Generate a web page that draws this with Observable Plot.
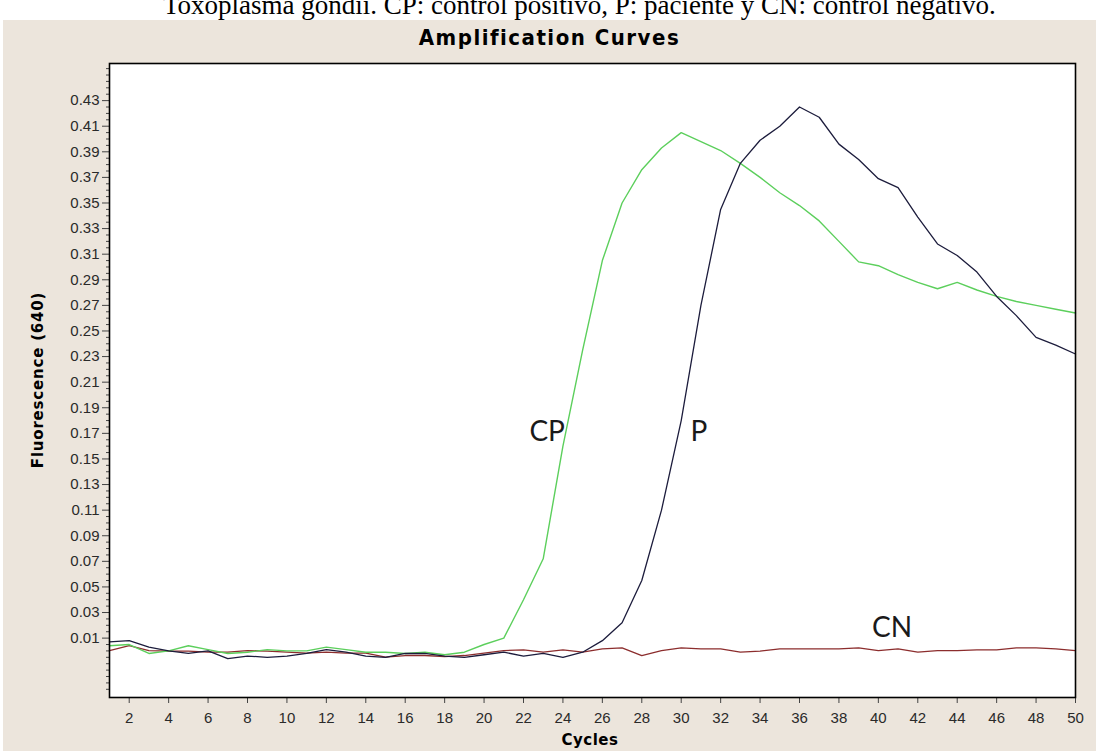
<!DOCTYPE html>
<html>
<head>
<meta charset="utf-8">
<script src="https://cdn.jsdelivr.net/npm/d3@7"></script>
<script src="https://cdn.jsdelivr.net/npm/@observablehq/plot@0.6"></script>
<style>
html, body { margin: 0; padding: 0; background: #ffffff; }
#page { position: relative; width: 1096px; height: 751px; overflow: hidden; background: #ffffff; }
#caption { position: absolute; left: 0; top: 0; width: 1096px; height: 20px; overflow: hidden; }
#caption span { position: absolute; left: 163px; top: -8px; font: 27px/27px "Liberation Serif", "DejaVu Serif", serif; white-space: nowrap; color: #000; }
#panel { position: absolute; left: 3px; top: 20px; width: 1093px; height: 731px; background: #ece5dc; }
#title { position: absolute; left: 0; top: 6px; width: 1093px; text-align: center; font: bold 22px/24px "DejaVu Sans Condensed", "DejaVu Sans", sans-serif; letter-spacing: 1.5px; color: #000; }
#chart { position: absolute; left: 0; top: 40px; }
#ylab { position: absolute; left: 35px; top: 360px; transform: translate(-50%, -50%) rotate(-90deg); white-space: nowrap; font: bold 15px/16px "DejaVu Sans", sans-serif; letter-spacing: 0.8px; color: #000; }
#xlab { position: absolute; left: 587px; top: 720px; transform: translate(-50%, -50%); white-space: nowrap; font: bold 15px/16px "DejaVu Sans", sans-serif; letter-spacing: 0.5px; color: #000; }
</style>
</head>
<body>
<div id="page">
  <div id="caption"><span>Toxoplasma gondii. CP: control positivo, P: paciente y CN: control negativo.</span></div>
  <div id="panel">
    <div id="title">Amplification Curves</div>
    <div id="chart"></div>
    <div id="ylab">Fluorescence (640)</div>
    <div id="xlab">Cycles</div>
  </div>
</div>
<script>
// ---- Data ----
const cycles = [1,2,3,4,5,6,7,8,9,10,11,12,13,14,15,16,17,18,19,20,21,22,23,24,25,26,27,28,29,30,31,32,33,34,35,36,37,38,39,40,41,42,43,44,45,46,47,48,49,50];

const cpValues = [0.004,0.005,-0.002,0.000,0.004,0.001,-0.002,-0.001,0.001,0.000,
                  0.000,0.003,0.001,-0.001,-0.001,-0.002,-0.001,-0.003,-0.001,0.005,
                  0.010,0.040,0.072,0.160,0.235,0.305,0.350,0.376,0.393,0.405,
                  0.398,0.391,0.381,0.370,0.358,0.348,0.336,0.320,0.304,0.301,
                  0.294,0.288,0.283,0.288,0.282,0.277,0.273,0.270,0.267,0.264];

const pValues  = [0.007,0.008,0.003,0.000,-0.002,0.000,-0.006,-0.004,-0.005,-0.004,
                  -0.002,0.001,-0.001,-0.004,-0.005,-0.002,-0.002,-0.004,-0.005,-0.003,
                  -0.001,-0.004,-0.002,-0.005,-0.001,0.008,0.022,0.055,0.110,0.180,
                  0.270,0.345,0.381,0.399,0.410,0.425,0.417,0.396,0.384,0.369,
                  0.362,0.339,0.318,0.309,0.296,0.277,0.262,0.245,0.239,0.232];

const cnValues = [0.0003,0.0042,0.0003,-0.0002,-0.0002,-0.0010,-0.0010,0.0003,-0.0002,-0.0010,
                  -0.0018,-0.0010,-0.0018,-0.0018,-0.0049,-0.0036,-0.0036,-0.0044,-0.0036,-0.0018,
                  0.0003,0.0008,-0.0010,0.0008,-0.0010,0.0016,0.0024,-0.0036,0.0003,0.0024,
                  0.0016,0.0016,-0.0010,-0.0002,0.0016,0.0016,0.0016,0.0016,0.0024,0.0003,
                  0.0016,-0.0010,0.0003,0.0003,0.0008,0.0008,0.0024,0.0024,0.0016,0.0003];

const seriesNames = ["CP", "P", "CN"];
const labelCycles = [23.2, 30.9, 40.7];
const labelValues = [0.171, 0.171, 0.0175];

const xTickValues = [2,4,6,8,10,12,14,16,18,20,22,24,26,28,30,32,34,36,38,40,42,44,46,48,50];
const yTickValues = [0.01,0.03,0.05,0.07,0.09,0.11,0.13,0.15,0.17,0.19,0.21,0.23,0.25,0.27,0.29,0.31,0.33,0.35,0.37,0.39,0.41,0.43];

// ---- Build tables ----
const toRows = (vals, name) => cycles.map((c, i) => ({cycle: c, value: vals[i], series: name}));
const cpRows = toRows(cpValues, "CP");
const pRows = toRows(pValues, "P");
const cnRows = toRows(cnValues, "CN");
const labelRows = seriesNames.map((s, i) => ({label: s, cycle: labelCycles[i], value: labelValues[i]}));

const yMinor = d3.range(-30, 456, 5).map(v => v / 1000).filter(v => !yTickValues.some(t => Math.abs(t - v) < 1e-9));

const chart = Plot.plot({
  width: 1093,
  height: 691,
  marginTop: 3,
  marginBottom: 54,
  marginLeft: 106,
  marginRight: 21,
  style: {background: "transparent", fontFamily: '"Liberation Sans", Arial, sans-serif', fontSize: "15px", color: "#2a2a2a", overflow: "visible"},
  x: {domain: [1, 50], label: null},
  y: {domain: [-0.0364, 0.459], label: null},
  marks: [
    Plot.frame({fill: "white", stroke: null}),
    Plot.axisY(yMinor, {tickSize: 3, tickFormat: () => "", label: null, stroke: "#444"}),
    Plot.axisY(yTickValues, {tickSize: 7, tickPadding: 3, tickFormat: d => d.toFixed(2), label: null, stroke: "#444"}),
    Plot.axisX(xTickValues, {tickSize: 6, tickPadding: 9, label: null, stroke: "#444"}),
    Plot.line(cnRows, {x: "cycle", y: "value", stroke: "#8c2d2d", strokeWidth: 1.3}),
    Plot.line(cpRows, {x: "cycle", y: "value", stroke: "#5ccf5c", strokeWidth: 1.4}),
    Plot.line(pRows, {x: "cycle", y: "value", stroke: "#1c1c3c", strokeWidth: 1.3}),
    Plot.text(labelRows, {x: "cycle", y: "value", text: "label", fontSize: 28, fontFamily: 'Lato, "Open Sans", sans-serif', fill: "#1a1a1a"}),
    Plot.frame({stroke: "#000", strokeWidth: 1.6})
  ]
});
document.getElementById("chart").appendChild(chart);
</script>
</body>
</html>
